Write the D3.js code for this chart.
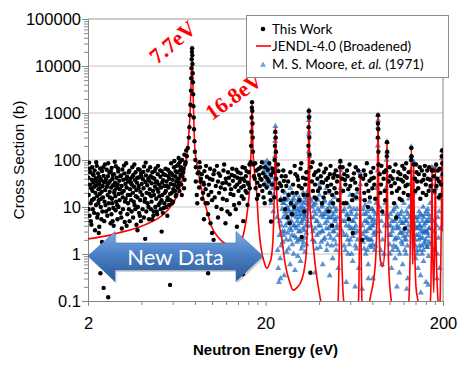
<!DOCTYPE html>
<html>
<head>
<meta charset="utf-8">
<script src="https://d3js.org/d3.v7.min.js"></script>
<style>
body { margin: 0; background: #fff; }
svg { display: block; font-family: "Liberation Sans", Arial, sans-serif; }
.tick line, .domain { stroke: #868686; }
</style>
</head>
<body>
<svg width="465" height="370"></svg>
<script>

var xMajor = [2, 20, 200];
var xMinor = [4, 6, 8, 10, 12, 14, 16, 18, 40, 60, 80, 100, 120, 140, 160, 180];
var yMajor = [0.1, 1, 10, 100, 1000, 10000, 100000];

var seriesNames = ["This Work", "JENDL-4.0 (Broadened)", "M. S. Moore, et. al. (1971)"];

// JENDL-4.0 broadened curve [energy eV, cross section b]
var jendl = [
[2,2.1],[2.5,2.4],[2.95,2.8],[3.8,3.6],[4.59,4.9],[5.2,6.5],[5.64,8.6],[6.1,13],[6.43,20],[6.86,43],[7.19,117],[7.4,350],[7.55,1500],[7.65,8000],[7.71,24000],[7.77,8000],[7.86,1200],[8.01,163],[8.33,61],[8.74,23],[9.33,8.6],[9.95,3.8],[10.8,2.3],[12.09,1.6],[13.12,1.5],[14.0,1.65],[14.69,2.0],[15.2,3.2],[15.67,6.2],[16.0,12],[16.35,32],[16.6,180],[16.8,1700],[17.0,180],[17.3,60],[17.84,20],[18.22,5],[19.04,1.1],[19.6,0.7],[20.3,0.5],[21.0,0.6],[21.67,0.95],[22.2,4],[22.5,30],[22.77,510],[23.05,30],[23.62,6],[24.69,2.2],[25.77,0.64],[27.49,0.24],[28.68,0.17],[29.98,0.19],[31.98,0.28],[33.3,0.55],[34.13,1.5],[34.7,12],[35.16,1150],[35.6,12],[36.42,3.5],[38.01,0.64],[40.56,0.123],[42.5,0.05],[46,0.03],[51.25,0.1],[52.3,5],[52.8,92],[53.3,5],[55.17,0.1],[60,0.03],[66.8,0.1],[67.9,5],[68.4,52],[68.9,5],[69.9,0.1],[74,0.05],[77.9,0.12],[83.1,0.6],[85.2,10],[86.1,910],[87.0,10],[88.7,0.74],[91.5,0.54],[94.5,2],[96.1,20],[96.7,245],[97.3,20],[98.9,0.54],[102.3,0.1],[110,0.03],[128.2,0.1],[131.3,5],[132.6,191],[133.9,5],[135,0.6],[135.9,5],[136.8,92],[137.8,5],[140.9,0.2],[144.6,0.1],[155,0.03],[169.7,0.1],[172.4,3],[173.4,70],[174.5,3],[177.3,0.15],[179.8,3],[181,70],[182.3,3],[187.5,0.1],[191,0.05],[193.1,0.15],[195.8,5],[197.4,160],[199,10],[200,3]
];

// this work (measured points)
var thisWork = [
[2.01,42],[2.02,18],[2.03,88],[2.04,6.5],[2.05,30],[2.06,55],[2.07,12],[2.08,25],[2.09,4.2],[2.1,38],
[2.11,70],[2.12,22],[2.13,9],[2.14,33],[2.15,48],[2.16,15],[2.17,27],[2.18,60],[2.19,3.2],[2.2,20],
[2.21,41],[2.22,11],[2.23,29],[2.24,75],[2.25,17],[2.26,35],[2.27,7],[2.28,52],[2.29,24],[2.3,14],
[2.31,44],[2.32,31],[2.33,19],[2.34,66],[2.35,26],[2.36,10],[2.37,37],[2.38,5.5],[2.39,21],[2.4,58],
[2.42,28],[2.43,16],[2.45,46],[2.46,34],[2.48,13],[2.49,80],[2.5,23],[2.52,39],[2.53,8],[2.55,62],
[2.56,27],[2.58,18],[2.59,45],[2.61,32],[2.62,12],[2.64,54],[2.65,21],[2.67,36],[2.68,4.5],[2.7,26],
[2.72,68],[2.73,15],[2.75,40],[2.77,29],[2.78,9.5],[2.8,50],[2.82,22],[2.84,33],[2.85,17],[2.87,74],
[2.89,25],[2.9,42],[2.92,11],[2.94,30],[2.96,57],[2.98,19],[3.0,36],[3.02,24],[3.05,7.5],[3.07,47],
[3.09,28],[3.12,63],[3.14,16],[3.16,38],[3.18,22],[3.21,52],[3.23,13],[3.25,31],[3.28,85],[3.3,26],
[3.32,44],[3.35,18],[3.37,35],[3.4,9],[3.42,59],[3.45,24],[3.47,40],[3.5,14],[3.53,30],[3.55,70],
[3.58,20],[3.6,48],[3.63,27],[3.66,11],[3.68,37],[3.71,55],[3.74,23],[3.77,33],[3.8,16],[3.83,64],
[3.86,28],[3.89,43],[3.92,6.5],[3.95,21],[3.98,51],[4.01,31],[4.04,18],[4.08,39],[4.11,25],[4.14,73],
[4.17,13],[4.21,34],[4.24,47],[4.28,20],[4.31,29],[4.35,60],[4.38,10],[4.42,36],[4.46,24],[4.5,45],
[4.54,17],[4.57,32],[4.61,55],[4.65,22],[4.69,8],[4.73,40],[4.77,27],[4.81,66],[4.85,15],[4.9,35],
[4.94,50],[4.98,21],[5.03,30],[5.07,12],[5.12,44],[5.16,26],[5.21,58],[5.25,18],[5.3,37],[5.35,9.5],
[5.4,28],[5.44,48],[5.49,22],[5.54,35],[5.59,14],[5.64,62],[5.69,26],[5.74,40],[5.8,19],[5.85,31],
[5.9,52],[5.95,12],[6.0,38],[6.05,24],[6.1,70],[6.15,29],[6.2,45],[6.25,17],[6.3,35],[6.35,55],
[6.4,26],[6.45,80],[6.5,40],[6.55,22],[6.6,60],[6.7,30],[6.8,45],[6.9,65],[7.0,38],[7.1,90],[6.75,18],[6.95,25],
[2.015,9],[2.045,65],[2.075,5],[2.105,14],[2.135,50],[2.165,7.5],[2.195,36],[2.225,90],[2.255,6],[2.285,12],
[2.315,3.8],[2.345,40],[2.375,15],[2.41,8],[2.44,70],[2.47,5],[2.51,11],[2.54,33],[2.57,6.5],[2.6,85],
[2.63,9],[2.66,16],[2.69,58],[2.71,7],[2.74,12],[2.76,48],[2.79,4],[2.81,20],[2.83,92],[2.86,8.5],
[2.88,13],[2.91,27],[2.93,5.5],[2.95,66],[2.97,10],[3.01,14],[3.04,45],[3.08,6],[3.11,20],[3.15,9],
[3.19,76],[3.22,4.8],[3.26,15],[3.29,40],[3.33,7],[3.36,12],[3.39,55],[3.43,5],[3.46,18],[3.49,33],
[3.52,8],[3.56,44],[3.59,6],[3.62,13],[3.65,80],[3.69,9],[3.72,17],[3.75,4.2],[3.79,42],[3.82,10],
[3.85,25],[3.88,7.5],[3.91,62],[3.94,14],[3.97,5],[4.0,44],[4.06,9],[4.1,56],[4.13,6],[4.19,15],
[4.23,88],[4.26,8],[4.33,12],[4.37,40],[4.41,5.5],[4.44,19],[4.48,70],[4.52,9],[4.56,13],[4.63,42],
[4.67,6.5],[4.71,18],[4.75,58],[4.79,10],[4.83,33],[4.88,8],[4.92,24],[4.96,75],[5.0,11],[5.05,17],
[5.1,60],[5.14,9],[5.19,14],[5.23,33],[5.28,7.5],[5.33,50],[5.38,12],[5.42,20],[5.47,65],[5.52,10],
[5.57,28],[5.62,16],[5.67,45],[5.72,11],[5.77,55],[5.83,14],[5.88,85],[5.93,20],[5.98,48],[6.03,13],
[6.08,30],[6.13,95],[6.18,22],[6.23,58],[6.28,18],[6.33,75],[6.38,40],[6.43,28],[6.48,110],[6.53,33],
[6.58,90],[6.63,48],[6.68,70],[6.78,100],[6.88,55],[6.98,130],[7.05,80],[7.15,160],
[2.35,0.39],[2.45,0.19],[2.6,0.12],[5.8,0.22],[9.5,0.39],[14.9,0.37],[2.3,2.8],[2.4,1.8],
[3.3,4],[3.8,3.2],[4.2,2.1],[4.6,5.5],[5.2,3],[5.6,6.5],[3.1,3.5],[2.75,5],[4.9,7],
[7.2,120],[7.3,180],[7.4,300],[7.45,500],[7.5,900],[7.55,1500],[7.6,3000],[7.63,5500],[7.66,9000],[7.68,14000],
[7.7,20000],[7.72,24000],[7.74,17000],[7.76,11000],[7.78,7000],[7.8,4500],[7.82,2500],[7.85,1400],[7.88,800],[7.92,450],
[7.96,250],[8.0,150],[8.05,100],[8.1,70],
[8.4,55],[8.6,35],[8.9,20],[9.2,12],[9.5,7],[9.8,4.5],[10,2.8],[10.2,2],
[8.1,35],[8.2,18],[8.3,52],[8.45,26],[8.55,70],[8.65,40],[8.8,15],[8.95,33],[9.05,58],[9.2,24],
[9.35,44],[9.45,12],[9.6,30],[9.75,65],[9.9,21],[10.05,38],[10.2,50],[10.35,16],[10.5,28],[10.65,75],
[10.8,35],[10.95,20],[11.1,46],[11.3,9],[11.45,32],[11.6,60],[11.8,24],[11.95,40],[12.1,14],[12.3,55],
[12.5,30],[12.7,19],[12.9,48],[13.1,36],[13.3,11],[13.5,27],[13.7,62],[13.9,42],[14.1,22],[14.3,34],
[14.5,52],[14.7,17],[14.9,40],[15.1,28],[15.3,68],[15.5,45],[15.7,20],[15.9,33],[16.1,55],[16.3,25],
[9.0,5.5],[10.8,6],[11.9,4.5],[12.6,7],[13.8,3.8],[15.0,5],
[8.25,12],[8.5,90],[8.75,50],[9.0,30],[9.25,75],[9.55,18],[9.7,40],[10.0,14],[10.3,60],[10.6,10],
[10.9,52],[11.2,26],[11.5,15],[11.7,80],[12.0,33],[12.2,8],[12.45,42],[12.8,24],[13.0,65],[13.2,18],
[13.4,45],[13.6,9],[13.85,30],[14.0,55],[14.2,12],[14.45,40],[14.6,26],[14.85,70],[15.05,15],[15.25,36],
[15.45,22],[15.65,58],[15.85,11],[16.05,30],[16.25,80],
[16.5,90],[16.6,200],[16.65,400],[16.7,800],[16.75,1300],[16.8,1700],[16.85,1100],[16.9,600],[16.95,300],[17.0,150],[17.1,80],[17.2,45],
[17.4,40],[17.6,25],[17.8,60],[18.0,33],[18.2,18],[18.4,48],[18.6,28],[18.8,70],[19.0,38],[19.2,22],
[19.4,52],[19.6,30],[19.8,12],[20.0,44],[20.3,26],[20.6,62],[20.9,35],[21.2,20],[21.5,48],[21.8,30],
[22.1,55],[22.4,16],[23.0,40],[23.3,25],[23.7,58],[24.0,32],[24.3,14],[24.7,45],[25.0,22],[25.4,36],
[25.8,9],[26.2,28],[26.6,6],[27.0,18],[27.4,4.5],[27.8,12],[28.2,7],[28.6,30],[29.0,10],[29.5,50],
[30.0,20],[30.5,38],[31.0,14],[31.5,65],[32.0,25],[32.5,42],[33.0,8],[33.5,30],[34.0,55],[34.5,18],
[36.0,70],[36.5,35],[37.0,22],[37.5,48],[38.0,30],[38.6,15],[39.2,40],[39.8,60],[40.4,25],[41.0,45],
[41.6,12],[42.2,33],[42.8,55],[43.4,20],[44.0,38],[44.7,28],[45.4,8],[46.1,50],[46.8,30],[47.5,18],
[48.2,42],[49.0,25],[49.8,60],[50.6,35],[51.4,14],[54.0,40],[54.8,22],[55.6,50],[56.4,30],[57.2,12],
[58.0,45],[59.0,5.5],[60.0,28],[61.0,38],[62.0,18],[63.0,52],[64.0,33],[65.5,24],[66.5,60],[71.0,40],
[72.0,20],[73.0,48],[74.0,30],[75.5,10],[77.0,36],[78.5,55],[80.0,25],[81.5,42],[83.0,15],[88.0,50],
[89.5,30],[91.0,8],[92.5,40],[94.0,22],[95.0,60],[99.0,35],[101,45],[103,20],[105,58],[107,32],
[109,6],[111,40],[113,25],[115,50],[117,14],[119,35],[121,65],[123,28],[125,42],[127,18],
[139,40],[142,55],[145,25],[148,70],[151,35],[154,20],[157,48],[160,30],[163,60],[166,22],
[169,38],[178,45],[184,28],[187,60],[190,35],[193,18],[199,50],
[17.5,85],[17.9,15],[18.3,65],[18.7,40],[19.1,90],[19.5,16],[19.9,70],[20.5,40],[21.0,85],[21.4,14],
[21.9,65],[23.5,80],[24.5,28],[25.2,60],[25.6,15],[26.0,45],[26.8,35],[27.6,55],[28.4,20],[29.2,75],
[30.2,45],[30.8,28],[31.8,85],[32.8,18],[33.8,40],[36.8,90],[37.8,16],[38.3,55],[39.5,22],[40.8,80],
[41.4,34],[42.5,16],[43.8,65],[45.0,42],[45.8,22],[46.5,75],[48.0,12],[48.8,50],[50.2,20],[51.0,45],
[54.4,70],[55.2,12],[56.0,38],[57.6,60],[58.5,24],[59.5,80],[61.5,14],[62.5,40],[64.5,70],[65.0,16],
[71.5,60],[72.5,14],[74.5,85],[76.0,22],[77.5,16],[79.0,40],[81.0,68],[82.0,30],[88.8,20],[90.0,75],
[93.0,55],[94.5,14],[100,70],[102,28],[104,40],[106,12],[108,80],[110,22],[112,55],[114,15],
[116,38],[118,75],[120,20],[122,45],[124,85],[126,30],[128,55],[140,22],[141,80],[143,35],
[146,50],[149,15],[152,60],[155,38],[158,75],[161,18],[164,40],[167,70],[170,28],[176,60],
[179,22],[183,80],[186,40],[189,16],[192,65],[195,30],[198,85],
[22.5,100],[22.6,200],[22.7,400],[22.8,300],[22.9,150],
[34.9,200],[35.0,500],[35.1,1100],[35.2,800],[35.3,300],[35.4,130],
[52.6,70],[52.8,95],[68.4,45],
[85.8,300],[86.0,600],[86.1,900],[86.3,450],[86.5,150],[86.7,80],
[96.5,120],[96.7,240],[96.9,150],[132.3,100],[132.6,180],[132.9,120],[136.8,80],[173,60],[197,120],[197.5,160],
[35.8,0.4],[21.5,4.9],[32,2.3],[47.5,4],[62,2.8],[70,2],[122,3.5]
];

// M. S. Moore et al. (1971)
var moore = [
[19.6,60],[19.8,85],[20.0,45],[20.2,70],[20.4,95],[20.6,55],[20.8,38],[21.0,75],[21.2,50],[21.4,30],
[21.6,65],[21.8,42],[22.0,25],[22.2,18],[22.4,35],[20.5,28],[21.1,20],[19.9,32],[21.5,12],[22.1,8],
[22.55,60],[22.6,120],[22.65,250],[22.7,400],[22.75,520],[22.8,300],[22.85,150],[22.9,70],
[23.2,6],[23.4,1.2],[23.6,0.5],[23.8,0.25],[24.0,2.5],[24.2,0.8],[24.4,15],[24.6,4],[24.8,9],[25.0,1.8],
[25.2,6],[25.4,12],[25.6,3],[25.8,20],[26.0,7],[26.2,2],[26.4,10],[26.6,4.5],[26.8,15],[27.0,1.3],
[27.2,8],[27.4,3.5],[27.6,25],[27.8,11],[28.0,5],[28.2,2.5],[28.4,14],[28.6,6.5],[28.8,1],[29.0,9],
[29.2,4],[29.4,18],[29.6,7],[29.8,2.2],[30.0,12],[30.2,5],[30.4,0.9],[30.6,8],[30.8,3],[31.0,16],
[31.2,6],[31.4,10],[31.6,2],[31.8,4.5],[32.0,13],[32.2,7],[32.4,1.5],[32.6,20],[32.8,5.5],[33.0,3.2],
[33.2,9],[33.4,1.1],[33.6,6],[33.8,14],[34.0,2.8],[34.2,8],[34.4,4],[34.6,22],[34.8,11],[27.5,0.6],
[29.3,0.45],[31.5,0.7],[25.5,0.35],[24.3,0.3],
[24.1,5],[24.5,1.5],[24.9,3],[25.1,12],[25.3,2.5],[25.7,8],[25.9,4],[26.1,14],[26.3,1.1],[26.5,6],
[26.7,2.8],[26.9,9],[27.1,18],[27.3,5],[27.5,2],[27.7,7],[27.9,3.2],[28.1,12],[28.3,1.6],[28.5,8],
[28.7,4],[28.9,15],[29.1,2.4],[29.5,11],[29.7,3.5],[29.9,6],[30.1,1.8],[30.3,9],[30.5,4],[30.7,13],
[30.9,2],[31.1,7],[31.3,3],[31.7,8.5],[31.9,1.3],[32.1,5],[32.3,10],[32.5,3.5],[32.7,1.8],[32.9,12],
[33.1,6.5],[33.3,2.2],[33.5,16],[33.7,4],[33.9,7],[34.1,1.6],[34.3,12],[34.5,5],[34.7,9],
[34.95,60],[35.0,150],[35.05,350],[35.1,700],[35.15,1150],[35.2,900],[35.25,400],[35.3,120],
[35.8,15],[36.2,6],[36.6,10],[37.0,3],[37.4,8],[37.8,1.8],[38.2,12],[38.6,5],[39.0,2.5],[39.4,9],
[39.8,4],[40.2,18],[40.6,1.4],[41.0,6.5],[41.4,3],[41.8,11],[42.2,7],[42.6,2],[43.0,14],[43.4,4.5],
[43.8,8],[44.2,1.2],[44.6,5],[45.0,20],[45.4,3.5],[45.8,10],[46.2,6],[46.6,2.2],[47.0,13],[47.4,4],
[47.8,0.8],[48.2,7],[48.6,3],[49.0,16],[49.4,5.5],[49.8,1.6],[50.2,9],[50.6,4],[51.0,2.5],[51.4,0.5],
[38.0,0.4],[42.0,0.6],[46.0,0.35],[44.0,25],[40.0,30],
[36.0,4],[36.4,13],[36.8,2],[37.2,6],[37.6,11],[38.0,3.5],[38.4,7],[38.8,1.3],[39.2,5],[39.6,14],
[40.0,2.8],[40.4,8],[40.8,4],[41.2,1.8],[41.6,10],[42.0,3],[42.4,6],[42.8,13],[43.2,2.2],[43.6,7],
[44.0,3.5],[44.4,9],[44.8,1.6],[45.2,6],[45.6,2.6],[46.0,12],[46.4,4],[46.8,8],[47.2,1.5],[47.6,6],
[48.0,3],[48.4,10],[48.8,2],[49.2,5],[49.6,8],[50.0,1.2],[50.4,3.5],[50.8,6],
[52.6,20],[52.7,45],[52.8,92],[52.9,60],[53.0,25],
[54.2,3],[54.8,8],[55.4,1.5],[56.0,5],[56.6,12],[57.2,2.5],[57.8,6.5],[58.4,1],[59.0,4],[59.6,10],
[60.2,2],[60.8,7],[61.4,3.5],[62.0,0.7],[62.6,5],[63.2,15],[63.8,2.8],[64.4,6],[65.0,1.3],[65.6,9],
[66.2,3],[67.0,0.5],[68.4,52],[68.3,30],[68.5,15],[70.5,4],[71.0,1.8],[71.6,7],[72.2,3],[72.8,11],
[73.4,1],[74.0,5],[74.6,2.2],[75.2,8],[75.8,0.6],[76.4,3.5],[77.0,13],[77.6,2],[78.2,6],[78.8,1.4],
[79.4,4],[80.0,9],[80.6,0.3],[81.2,2.8],[81.8,5.5],[82.4,1.2],[83.0,7],[83.6,3],[84.2,12],[84.8,25],
[57.0,0.25],[64.0,0.2],[70.0,0.18],[76.0,0.3],[60.0,18],[66.0,20],
[54.5,5],[55.1,2.5],[55.7,9],[56.3,1.2],[56.9,4],[57.5,7],[58.1,2],[58.7,5.5],[59.3,1.6],[59.9,3.5],
[60.5,8],[61.1,1],[61.7,5],[62.3,2.4],[62.9,9],[63.5,3.5],[64.1,1.5],[64.7,4],[65.3,7],[65.9,2],
[70.8,2.6],[71.3,9],[71.9,1.3],[72.5,5],[73.1,2.2],[73.7,7],[74.3,3],[74.9,1.2],[75.5,4.5],[76.1,2],
[76.7,6],[77.3,1.5],[77.9,3.5],[78.5,9],[79.1,2],[79.7,5],[80.3,1.6],[80.9,4],[81.5,8],[82.1,2.5],[82.7,4.5],[83.3,1.5],
[85.7,60],[85.9,200],[86.0,500],[86.1,910],[86.2,700],[86.3,300],[86.5,80],
[87.5,10],[88.2,3],[89.0,1.2],[89.8,5],[90.6,0.6],[91.4,2],[92.2,7],[93.0,1],[93.8,4],[94.6,12],[95.4,25],[96.0,60],
[96.4,100],[96.7,245],[96.9,150],[97.2,40],
[98.5,6],[99.5,2.5],[100.5,1],[101.5,4],[102.5,0.5],[103.5,3],[104.5,8],[105.5,1.5],[106.5,5],[107.5,0.8],
[108.5,2.2],[109.5,10],[110.5,3.5],[111.5,1.2],[112.5,6],[113.5,0.4],[114.5,2.8],[115.5,7],[116.5,1.8],[117.5,4.5],
[118.5,0.6],[119.5,3],[120.5,12],[121.5,2],[122.5,5],[123.5,1],[124.5,8],[125.5,2.5],[126.5,0.3],[127.5,4],
[128.5,15],[129.5,6],[130.5,30],[131.5,60],[132.4,120],[132.6,191],[132.8,100],
[99,4],[100,1.6],[101,7],[102,2.5],[103,5],[104,1.2],[105,3.5],[106,9],[107,2],[108,5.5],
[109,1.4],[110,4],[111,7],[112,2.2],[113,3.6],[114,1],[115,5],[116,2.8],[117,8],[118,1.6],
[119,4.5],[120,2.4],[121,6],[122,1.2],[123,3.5],[124,2],[125,5],[126,1.5],[127,7],[128,3],[129,10],
[134.0,10],[135.0,4],[135.8,40],[136.8,92],[137.5,20],[138.5,6],[139.5,2],[140.5,0.8],[141.5,3.5],[142.5,1.2],
[143.5,5],[144.5,0.5],[145.5,2.5],[146.5,8],[147.5,1.5],[148.5,4],[149.5,0.35],[150.5,3],[151.5,6.5],[152.5,1],
[153.5,2.2],[154.5,10],[155.5,0.7],[156.5,4],[157.5,1.8],[158.5,7],[159.5,3],[160.5,0.25],[161.5,5],[162.5,1.4],
[163.5,2.8],[164.5,9],[165.5,0.9],[166.5,3.5],[167.5,6],[168.5,1.6],[169.5,12],[170.5,25],
[139,4],[140,1.5],[141,6],[142,2.5],[143,1],[144,3.5],[145,6],[146,2],[147,4],[148,1.2],
[149,7],[150,2.2],[151,3.5],[152,1.5],[153,5],[154,2.8],[155,1.2],[156,6],[157,3],[158,1.6],
[159,4.5],[160,2],[161,8],[162,3],[163,1.4],[164,5],[165,2.4],[166,7],[167,1.8],[168,3.5],[169,5],
[172.5,40],[173.2,70],[173.8,30],[175.5,5],[176.5,1.2],[178,3],[179.5,20],[180.5,60],[181.3,75],[182,25],
[184,4],[185.5,1],[187,6],[188.5,2.2],[190,8],[191.5,0.5],[193,3.5],[194.5,15],[196,45],[197,110],[197.5,160],[198.5,60],[199.5,20],
[110,0.2],[125,0.18],[150,0.15],[165,0.22],[185,0.3]
];

var svg = d3.select("svg");

var x = d3.scaleLog().domain([2, 200]).range([88, 443]);
var y = d3.scaleLog().domain([0.1, 100000]).range([301, 19]);

var yMinor = [];
yMajor.slice(0, -1).forEach(function (d) {
  for (var k = 2; k < 10; k++) yMinor.push(d * k);
});

var defs = svg.append("defs");
defs.append("clipPath").attr("id", "plot")
  .append("rect").attr("x", 88).attr("y", 19).attr("width", 355).attr("height", 282);

var grad = defs.append("linearGradient").attr("id", "arrowfill")
  .attr("x1", 0).attr("y1", 0).attr("x2", 0).attr("y2", 1);
grad.append("stop").attr("offset", "0%").attr("stop-color", "#7eaae0");
grad.append("stop").attr("offset", "45%").attr("stop-color", "#4b80c6");
grad.append("stop").attr("offset", "100%").attr("stop-color", "#2a5895");

// grid
svg.append("g").selectAll("line")
  .data(yMajor.slice(1))
  .enter().append("line")
  .attr("x1", x(2)).attr("x2", x(200))
  .attr("y1", function (d) { return y(d); })
  .attr("y2", function (d) { return y(d); })
  .attr("stroke", function (d) { return d == 100000 ? "#9a9a9a" : "#c4c4c4"; })
  .attr("stroke-width", 1.2);

svg.append("line")
  .attr("x1", x(200)).attr("x2", x(200)).attr("y1", y(100000)).attr("y2", y(0.1))
  .attr("stroke", "#9a9a9a").attr("stroke-width", 1.2);

// axes
svg.append("g").attr("transform", "translate(" + x(2) + ",0)")
  .call(d3.axisLeft(y).tickValues(yMajor).tickSize(6).tickSizeOuter(0).tickPadding(1)
    .tickFormat(function (d) { return d < 1 ? "0.1" : d3.format("d")(d); }));
svg.append("g").attr("transform", "translate(" + x(2) + ",0)")
  .call(d3.axisLeft(y).tickValues(yMinor).tickSize(4).tickFormat(""))
  .select(".domain").remove();

svg.append("g").attr("transform", "translate(0," + y(0.1) + ")")
  .call(d3.axisBottom(x).tickValues(xMajor).tickSize(5).tickSizeOuter(0).tickPadding(11)
    .tickFormat(d3.format("d")));
svg.append("g").attr("transform", "translate(0," + y(0.1) + ")")
  .call(d3.axisBottom(x).tickValues(xMinor).tickSize(4).tickFormat(""))
  .select(".domain").remove();

svg.selectAll(".tick text")
  .attr("font-family", "Liberation Sans, Arial, sans-serif")
  .attr("font-size", 16.5).attr("fill", "#000");

svg.append("text")
  .attr("x", (x(2) + x(200)) / 2).attr("y", 355)
  .attr("text-anchor", "middle")
  .attr("font-size", 15).attr("font-weight", "bold")
  .text("Neutron Energy (eV)");

svg.append("text")
  .attr("transform", "translate(24," + (y(0.1) + y(100000)) / 2 + ") rotate(-90)")
  .attr("text-anchor", "middle")
  .attr("font-size", 15.4)
  .text("Cross Section (b)");

// data
var plot = svg.append("g").attr("clip-path", "url(#plot)");

plot.selectAll(".moore")
  .data(moore)
  .enter().append("path")
  .attr("class", "moore")
  .attr("transform", function (d) { return "translate(" + x(d[0]) + "," + y(d[1]) + ")"; })
  .attr("d", d3.symbol().type(d3.symbolTriangle).size(16))
  .attr("fill", "#1565c0").attr("fill-opacity", 0.7);

var line = d3.line()
  .x(function (d) { return x(d[0]); })
  .y(function (d) { return y(d[1]); })
  .curve(d3.curveMonotoneX);

plot.append("path")
  .datum(jendl)
  .attr("d", line)
  .attr("fill", "none").attr("stroke", "#ff0000").attr("stroke-width", 1.6);

plot.selectAll(".work")
  .data(thisWork)
  .enter().append("circle")
  .attr("class", "work")
  .attr("cx", function (d) { return x(d[0]); })
  .attr("cy", function (d) { return y(d[1]); })
  .attr("r", 2.2)
  .attr("fill", "#000");

// peak labels
svg.append("text")
  .attr("transform", "translate(157,65) rotate(-40)")
  .attr("font-family", "Liberation Serif, Times New Roman, serif")
  .attr("font-weight", "bold").attr("font-size", 22).attr("fill", "#ff0000")
  .text("7.7eV");
svg.append("text")
  .attr("transform", "translate(212,121) rotate(-36)")
  .attr("font-family", "Liberation Serif, Times New Roman, serif")
  .attr("font-weight", "bold").attr("font-size", 22).attr("fill", "#ff0000")
  .text("16.8eV");

// "New Data" arrow
var ax0 = x(2), ax1 = 263, acy = 256;
var arrowPts = [[ax0, acy], [ax0 + 27, acy - 24.5], [ax0 + 27, acy - 13], [ax1 - 27, acy - 13], [ax1 - 27, acy - 24.5],
  [ax1, acy], [ax1 - 27, acy + 25.5], [ax1 - 27, acy + 14], [ax0 + 27, acy + 14], [ax0 + 27, acy + 25.5]];
svg.append("polygon")
  .attr("points", arrowPts.map(function (p) { return (p[0] + 1.5) + "," + (p[1] + 2); }).join(" "))
  .attr("fill", "#000").attr("opacity", 0.18);
svg.append("polygon")
  .attr("points", arrowPts.map(function (p) { return p.join(","); }).join(" "))
  .attr("fill", "url(#arrowfill)").attr("stroke", "#3a6db0").attr("stroke-width", 0.6);
svg.append("text")
  .attr("x", (ax0 + ax1) / 2).attr("y", 265)
  .attr("text-anchor", "middle")
  .attr("font-family", "Lato, 'Open Sans', sans-serif")
  .attr("font-size", 22).attr("fill", "#fff")
  .text("New Data");

// legend
var lg = svg.append("g").attr("font-family", "Lato, 'Open Sans', sans-serif").attr("font-size", 13.5);
lg.append("rect").attr("x", 246.5).attr("y", 15.5).attr("width", 202).attr("height", 62)
  .attr("fill", "#fff").attr("stroke", "#8c8c8c");
lg.append("circle").attr("cx", 263).attr("cy", 29).attr("r", 2.3).attr("fill", "#000");
lg.append("line").attr("x1", 256).attr("x2", 271).attr("y1", 46).attr("y2", 46)
  .attr("stroke", "#ff0000").attr("stroke-width", 1.6);
lg.append("path").attr("transform", "translate(263,65)")
  .attr("d", d3.symbol().type(d3.symbolTriangle).size(16))
  .attr("fill", "#1565c0").attr("fill-opacity", 0.6);
lg.append("text").attr("x", 272).attr("y", 33.5).text(seriesNames[0]);
lg.append("text").attr("x", 272).attr("y", 50.5).text(seriesNames[1]);
var t3 = lg.append("text").attr("x", 272).attr("y", 68.5);
t3.append("tspan").text("M. S. Moore, ");
t3.append("tspan").attr("font-style", "italic").text("et. al.");
t3.append("tspan").text(" (1971)");

</script>
</body>
</html>
